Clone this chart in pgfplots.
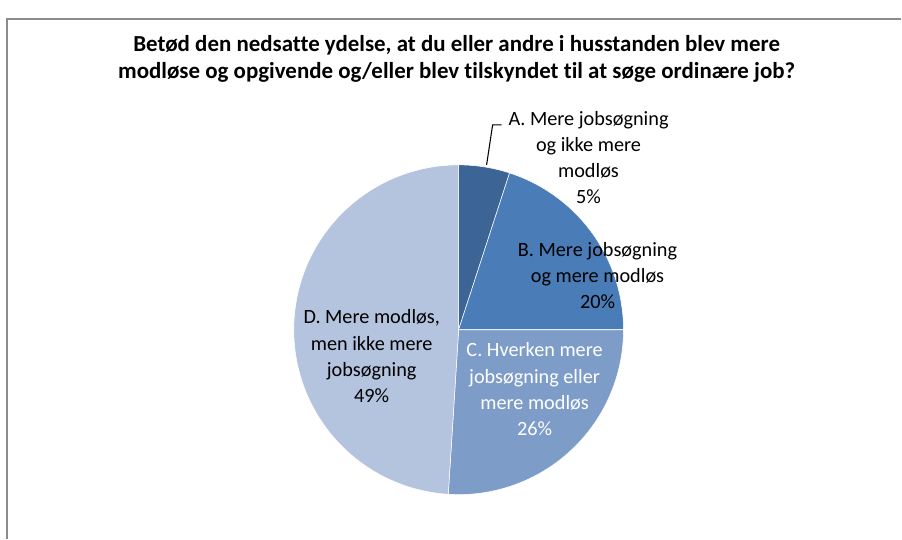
\documentclass[border=0pt]{standalone}
\usepackage{pgfplots}
\pgfplotsset{compat=1.18}
\usepackage{fontspec}
\setmainfont{Carlito}[Ligatures=NoCommon]
\definecolor{cA}{HTML}{3C6495}
\definecolor{cB}{HTML}{4A7DB8}
\definecolor{cC}{HTML}{7E9CC8}
\definecolor{cD}{HTML}{B4C3DE}
\definecolor{frame}{HTML}{8C8C8C}
% data (percent)
\def\pA{5}\def\pB{20}\def\pC{26}\def\pD{49}
\pgfmathsetmacro\aA{90}
\pgfmathsetmacro\aB{\aA-3.6*\pA}
\pgfmathsetmacro\aC{\aB-3.6*\pB}
\pgfmathsetmacro\aD{\aC-3.6*\pC}
\pgfmathsetmacro\aE{\aD-3.6*\pD}
\def\cx{459}\def\cy{330}\def\R{165}
\begin{document}
\begin{tikzpicture}
\begin{axis}[
  width=676.5pt, height=404.25pt, scale only axis,
  xmin=0, xmax=902, ymin=0, ymax=539, y dir=reverse,
  hide axis, clip=false,
]
\path (axis cs:0,0) rectangle (axis cs:902,539);
\draw[frame, line width=1.1pt] (axis cs:7,539) -- (axis cs:7,19) -- (axis cs:902,19);
\addplot[fill=cA, draw=white, line width=0.4pt, domain=\aB:\aA, samples=20, variable=\t]
  ({\cx+\R*cos(\t)},{\cy-\R*sin(\t)}) -- (axis cs:\cx,\cy) -- cycle;
\addplot[fill=cB, draw=white, line width=0.4pt, domain=\aC:\aB, samples=60, variable=\t]
  ({\cx+\R*cos(\t)},{\cy-\R*sin(\t)}) -- (axis cs:\cx,\cy) -- cycle;
\addplot[fill=cC, draw=white, line width=0.4pt, domain=\aD:\aC, samples=80, variable=\t]
  ({\cx+\R*cos(\t)},{\cy-\R*sin(\t)}) -- (axis cs:\cx,\cy) -- cycle;
\addplot[fill=cD, draw=white, line width=0.4pt, domain=\aE:\aD, samples=140, variable=\t]
  ({\cx+\R*cos(\t)},{\cy-\R*sin(\t)}) -- (axis cs:\cx,\cy) -- cycle;
\draw[black, line width=0.8pt] (axis cs:487,165) -- (axis cs:493,125) -- (axis cs:502,125);
\node[font=\fontsize{17.2}{20.3}\selectfont\bfseries, align=center, inner sep=0pt] at (axis cs:457,58.5)
  {Betød den nedsatte ydelse, at du eller andre i husstanden blev mere\\modløse og opgivende og/eller blev tilskyndet til at søge ordinære job?};
\node[font=\fontsize{15.2}{19.6}\selectfont, align=center, inner sep=0pt] at (axis cs:589,157.5)
  {A. Mere jobsøgning\\og ikke mere\\modløs\\5\%};
\node[font=\fontsize{15.2}{19.6}\selectfont, align=center, inner sep=0pt] at (axis cs:598,276)
  {B. Mere jobsøgning\\og mere modløs\\20\%};
\node[font=\fontsize{15.2}{19.6}\selectfont, align=center, text=white, inner sep=0pt] at (axis cs:535,389.5)
  {C. Hverken mere\\jobsøgning eller\\mere modløs\\26\%};
\node[font=\fontsize{15.2}{19.6}\selectfont, align=center, inner sep=0pt] at (axis cs:372,356.5)
  {D. Mere modløs,\\men ikke mere\\jobsøgning\\49\%};
\end{axis}
\end{tikzpicture}
\end{document}
